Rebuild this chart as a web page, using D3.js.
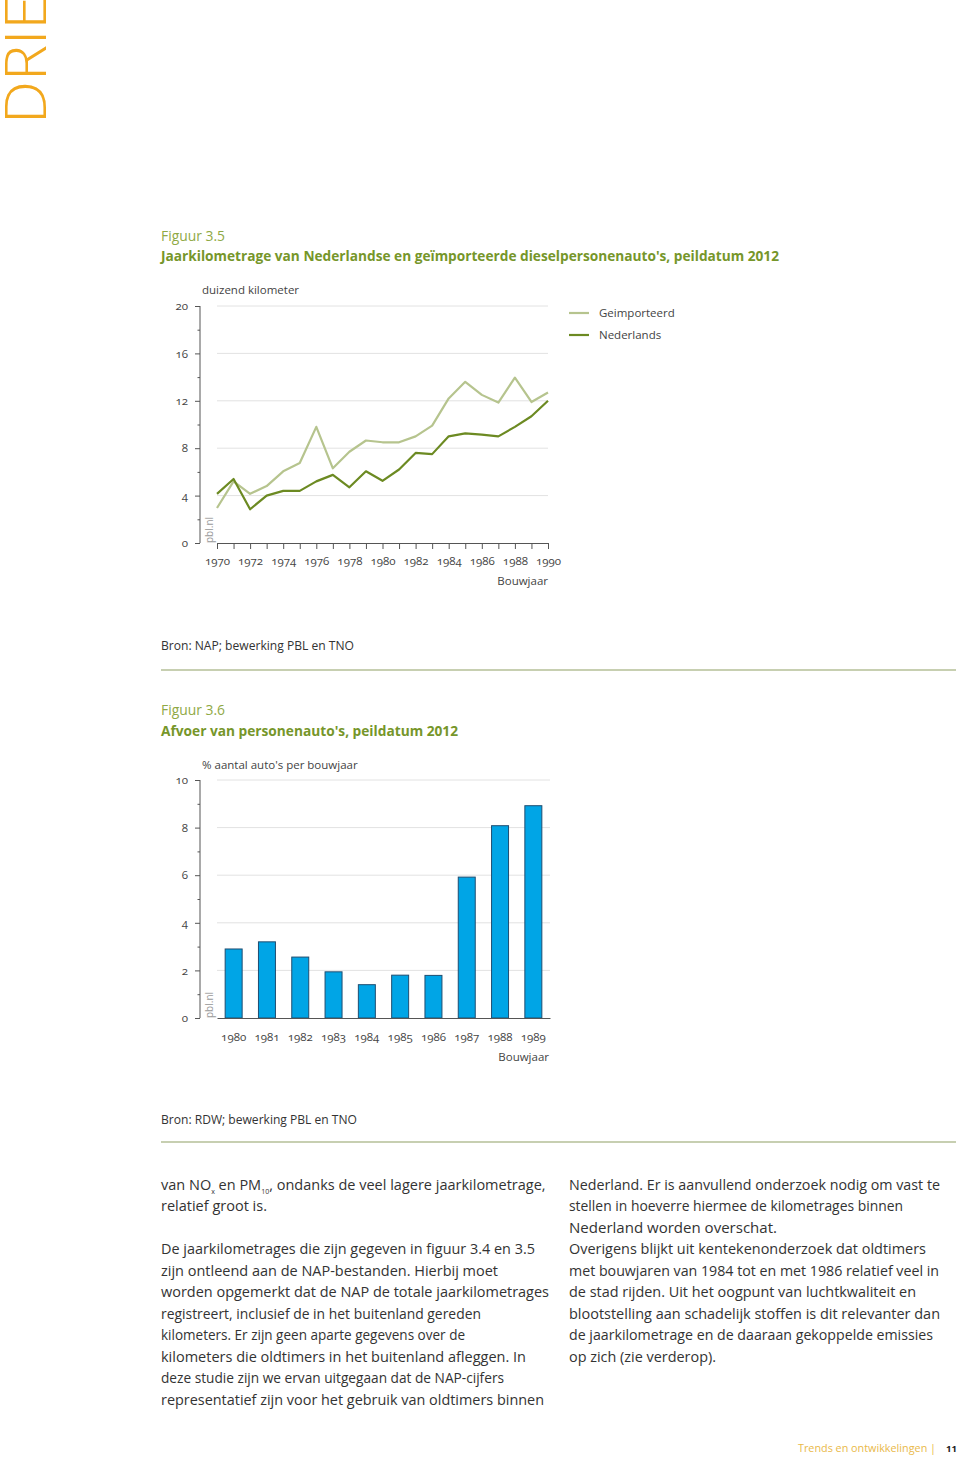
<!DOCTYPE html>
<html><head><meta charset="utf-8">
<script src="https://cdnjs.cloudflare.com/ajax/libs/d3/7.8.5/d3.min.js"></script>
<style>
html,body{margin:0;padding:0;background:#fff;}
svg{display:block;font-family:"Open Sans",sans-serif;}
.num{font-family:"Open Sans",sans-serif;font-variant-numeric:oldstyle-nums;}
</style></head>
<body>
<svg id="page" width="960" height="1457"></svg>
<script>
// ---------- DATA ----------
const years = [1970,1971,1972,1973,1974,1975,1976,1977,1978,1979,1980,1981,1982,1983,1984,1985,1986,1987,1988,1989,1990];
const imported   = [2.95,5.2,4.15,4.8,6.05,6.75,9.8,6.3,7.7,8.65,8.5,8.5,9.0,9.9,12.2,13.6,12.5,11.85,13.95,11.9,12.7];
const nederlands = [4.15,5.4,2.85,4.0,4.4,4.4,5.2,5.75,4.7,6.05,5.25,6.2,7.6,7.5,9.0,9.25,9.15,9.0,9.8,10.7,12.0];
const seriesNames = ["Geimporteerd","Nederlands"];
const yTicks1 = [0,4,8,12,16,20];
const yMinor1 = [2,6,10,14,18];
const xLabels1 = [1970,1972,1974,1976,1978,1980,1982,1984,1986,1988,1990];

const barYears = ["1980","1981","1982","1983","1984","1985","1986","1987","1988","1989"];
const afvoer = [2.9,3.2,2.56,1.94,1.4,1.8,1.79,5.92,8.08,8.92];
const yTicks2 = [0,2,4,6,8,10];
const yMinor2 = [1,3,5,7,9];

const bodyLeft = [
  null, // line with subscripts drawn separately
  "relatief groot is.",
  "",
  "De jaarkilometrages die zijn gegeven in figuur 3.4 en 3.5",
  "zijn ontleend aan de NAP-bestanden. Hierbij moet",
  "worden opgemerkt dat de NAP de totale jaarkilometrages",
  "registreert, inclusief de in het buitenland gereden",
  "kilometers. Er zijn geen aparte gegevens over de",
  "kilometers die oldtimers in het buitenland afleggen. In",
  "deze studie zijn we ervan uitgegaan dat de NAP-cijfers",
  "representatief zijn voor het gebruik van oldtimers binnen"
];
const bodyLeftW = [381,0,0,374,337,388,320,304,365,343,383];
const bodyRight = [
  "Nederland. Er is aanvullend onderzoek nodig om vast te",
  "stellen in hoeverre hiermee de kilometrages binnen",
  "Nederland worden overschat.",
  "Overigens blijkt uit kentekenonderzoek dat oldtimers",
  "met bouwjaren van 1984 tot en met 1986 relatief veel in",
  "de stad rijden. Uit het oogpunt van luchtkwaliteit en",
  "blootstelling aan schadelijk stoffen is dit relevanter dan",
  "de jaarkilometrage en de daaraan gekoppelde emissies",
  "op zich (zie verderop)."
];
const bodyRightW = [371,334,208,357,370,347,371,364,147];

// ---------- STYLE ----------
const cTitle = "#76962a", cFig = "#8fa945", cLight = "#b6c48e", cDark = "#6c8a22";
const cText = "#333", cAxis = "#555", cGrid = "#e2e2e2", cBar = "#00a5e6", cBarStroke = "#1f4d70";

const svg = d3.select("#page");

function fitText(sel, w){ if(w>0) sel.attr("textLength", w).attr("lengthAdjust","spacingAndGlyphs"); return sel; }

// Header "DRIE"
fitText(svg.append("text").attr("transform","translate(46,124) rotate(-90)")
  .attr("font-size",57).attr("font-weight",300).attr("fill","#f2a81d").text("DRIE"), 128);

// ---------- FIGURE 3.5 ----------
fitText(svg.append("text").attr("x",161).attr("y",241).attr("font-size",14).attr("fill",cFig).text("Figuur 3.5"),64);
fitText(svg.append("text").attr("x",161).attr("y",261).attr("font-size",14.5).attr("font-weight",700).attr("fill",cTitle)
  .text("Jaarkilometrage van Nederlandse en geïmporteerde dieselpersonenauto's, peildatum 2012"),618);

const x1 = d3.scaleLinear().domain([1970,1990]).range([217,548]);
const y1 = d3.scaleLinear().domain([0,20]).range([543,306]);
const axisX1 = 200;

const g1 = svg.append("g");
// grid
g1.selectAll(".grid").data(yTicks1.filter(d=>d>0)).join("line")
  .attr("x1",217).attr("x2",548).attr("y1",d=>y1(d)).attr("y2",d=>y1(d))
  .attr("stroke",cGrid).attr("stroke-width",1);
// y axis
const ya1 = g1.append("g").attr("transform",`translate(${axisX1},0)`)
  .call(d3.axisLeft(y1).tickValues(yTicks1).tickSize(5).tickPadding(7).tickFormat(d3.format("d")));
ya1.select(".domain").remove();
const ym1 = g1.append("g").attr("transform",`translate(${axisX1},0)`)
  .call(d3.axisLeft(y1).tickValues(yMinor1).tickSize(2.5).tickFormat(""));
ym1.select(".domain").remove();
g1.append("line").attr("x1",axisX1).attr("x2",axisX1).attr("y1",y1(20)).attr("y2",y1(0)).attr("stroke",cAxis);
// x axis
const xa1 = g1.append("g").attr("transform",`translate(0,${y1(0)})`)
  .call(d3.axisBottom(x1).tickValues(years).tickSize(6).tickSizeOuter(0).tickPadding(8)
    .tickFormat(d => xLabels1.includes(d) ? String(d) : ""));
[ya1,ym1,xa1].forEach(a=>{
  a.selectAll(".tick line").attr("stroke",cAxis);
  a.selectAll("text").attr("class","num").attr("font-size",11.5).attr("fill","#444");
});
xa1.select(".domain").attr("stroke",cAxis);
g1.append("text").attr("x",202).attr("y",294).attr("font-size",11.5).attr("fill","#444").text("duizend kilometer");
g1.append("text").attr("x",548).attr("y",585).attr("text-anchor","end").attr("font-size",11.5).attr("fill","#444").text("Bouwjaar");
g1.append("text").attr("transform","translate(213,543) rotate(-90)").attr("font-size",10).attr("fill","#9a9a9a").text("pbl.nl");

const line1 = d3.line().x((d,i)=>x1(years[i])).y(d=>y1(d));
g1.append("path").datum(imported).attr("d",line1).attr("fill","none").attr("stroke",cLight).attr("stroke-width",2.2).attr("stroke-linejoin","round");
g1.append("path").datum(nederlands).attr("d",line1).attr("fill","none").attr("stroke",cDark).attr("stroke-width",2.2).attr("stroke-linejoin","round");

// legend
const leg = svg.append("g");
[cLight,cDark].forEach((c,i)=>{
  leg.append("line").attr("x1",569).attr("x2",589).attr("y1",313+i*22).attr("y2",313+i*22).attr("stroke",c).attr("stroke-width",2.2);
  leg.append("text").attr("x",599).attr("y",317+i*22).attr("font-size",11.5).attr("fill","#444").text(seriesNames[i]);
});

fitText(svg.append("text").attr("x",161).attr("y",650).attr("font-size",12.5).attr("fill",cText).text("Bron: NAP; bewerking PBL en TNO"),193);
svg.append("line").attr("x1",161).attr("x2",956).attr("y1",670).attr("y2",670).attr("stroke","#b4bf97").attr("stroke-width",1.6);

// ---------- FIGURE 3.6 ----------
fitText(svg.append("text").attr("x",161).attr("y",715).attr("font-size",14).attr("fill",cFig).text("Figuur 3.6"),64);
fitText(svg.append("text").attr("x",161).attr("y",736).attr("font-size",14.5).attr("font-weight",700).attr("fill",cTitle)
  .text("Afvoer van personenauto's, peildatum 2012"),297);

const x2 = d3.scaleBand().domain(barYears).range([217,550]).paddingInner(0.49).paddingOuter(0.245);
const y2 = d3.scaleLinear().domain([0,10]).range([1018,780]);
const g2 = svg.append("g");
g2.selectAll(".grid").data(yTicks2.filter(d=>d>0)).join("line")
  .attr("x1",217).attr("x2",550).attr("y1",d=>y2(d)).attr("y2",d=>y2(d))
  .attr("stroke",cGrid).attr("stroke-width",1);
const ya2 = g2.append("g").attr("transform",`translate(${axisX1},0)`)
  .call(d3.axisLeft(y2).tickValues(yTicks2).tickSize(5).tickPadding(7).tickFormat(d3.format("d")));
ya2.select(".domain").remove();
const ym2 = g2.append("g").attr("transform",`translate(${axisX1},0)`)
  .call(d3.axisLeft(y2).tickValues(yMinor2).tickSize(2.5).tickFormat(""));
ym2.select(".domain").remove();
g2.append("line").attr("x1",axisX1).attr("x2",axisX1).attr("y1",y2(10)).attr("y2",y2(0)).attr("stroke",cAxis);
g2.append("text").attr("transform","translate(213,1018) rotate(-90)").attr("font-size",10).attr("fill","#9a9a9a").text("pbl.nl");

g2.selectAll("rect").data(afvoer).join("rect")
  .attr("x",(d,i)=>x2(barYears[i])).attr("width",x2.bandwidth())
  .attr("y",d=>y2(d)).attr("height",d=>y2(0)-y2(d))
  .attr("fill",cBar).attr("stroke",cBarStroke).attr("stroke-width",1);

const xa2 = g2.append("g").attr("transform",`translate(0,${y2(0)})`)
  .call(d3.axisBottom(x2).tickSize(0).tickSizeOuter(0).tickPadding(15));
xa2.select(".domain").attr("stroke",cAxis);
[ya2,ym2,xa2].forEach(a=>{
  a.selectAll(".tick line").attr("stroke",cAxis);
  a.selectAll("text").attr("class","num").attr("font-size",11.5).attr("fill","#444");
});
g2.append("text").attr("x",202).attr("y",769).attr("font-size",11.5).attr("fill","#444").text("% aantal auto's per bouwjaar");
g2.append("text").attr("x",549).attr("y",1061).attr("text-anchor","end").attr("font-size",11.5).attr("fill","#444").text("Bouwjaar");

fitText(svg.append("text").attr("x",161).attr("y",1124).attr("font-size",12.5).attr("fill",cText).text("Bron: RDW; bewerking PBL en TNO"),196);
svg.append("line").attr("x1",161).attr("x2",956).attr("y1",1142).attr("y2",1142).attr("stroke","#b4bf97").attr("stroke-width",1.6);

// ---------- BODY TEXT ----------
const lh = 21.5, base = 1189.5, fs = 14.5;
const t0 = svg.append("text").attr("x",161).attr("y",base).attr("font-size",fs).attr("fill",cText);
t0.append("tspan").text("van NO");
t0.append("tspan").attr("font-size",7).attr("dy",4).text("x");
t0.append("tspan").attr("dy",-4).text(" en PM");
t0.append("tspan").attr("font-size",7).attr("dy",4).text("10");
t0.append("tspan").attr("dy",-4).text(", ondanks de veel lagere jaarkilometrage,");
bodyLeft.forEach((s,i)=>{
  if(!s) return;
  fitText(svg.append("text").attr("x",161).attr("y",base+i*lh).attr("font-size",fs).attr("fill",cText).text(s), bodyLeftW[i]);
});
bodyRight.forEach((s,i)=>{
  fitText(svg.append("text").attr("x",569).attr("y",base+i*lh).attr("font-size",fs).attr("fill",cText).text(s), bodyRightW[i]);
});

// footer
fitText(svg.append("text").attr("x",798).attr("y",1452).attr("font-size",11.5).attr("fill","#e9b949").text("Trends en ontwikkelingen |"),138);
svg.append("text").attr("x",946).attr("y",1452).attr("font-size",9.5).attr("font-weight",700).attr("fill","#222").text("11");
</script>
</body></html>
